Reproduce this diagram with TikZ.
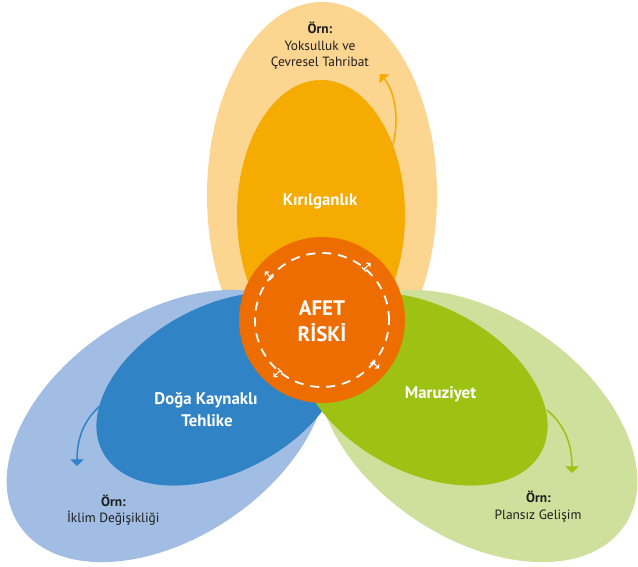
\documentclass[tikz,border=0pt]{standalone}
\usepackage{fontspec}
\setmainfont{PT Sans}
\usetikzlibrary{arrows.meta,calc}
\definecolor{topout}{HTML}{FCD590}
\definecolor{topin}{HTML}{F5AB00}
\definecolor{riskcol}{HTML}{EE6D00}
\definecolor{blueout}{HTML}{A1BDE3}
\definecolor{bluein}{HTML}{3083C5}
\definecolor{greenout}{HTML}{CFE09C}
\definecolor{greenin}{HTML}{9DC213}
\definecolor{darktext}{HTML}{1E1E1E}
\tikzset{
  biglbl/.style={text=white, inner sep=0pt, font=\fontsize{16.8bp}{20bp}\selectfont\bfseries},
  risklbl/.style={text=white, inner sep=0pt, font=\fontsize{21bp}{24bp}\selectfont\bfseries},
  exlbl/.style={text=darktext, inner sep=0pt, font=\fontsize{13.4bp}{16bp}\selectfont},
  exbold/.style={exlbl, font=\fontsize{13.4bp}{16bp}\selectfont\bfseries},
  curvearrow/.style={line width=1.5bp, -{Triangle[width=13bp,length=6.5bp]}},
  smallarrow/.style={white, line width=1.2bp, {Bar[width=6bp]}-{Straight Barb[length=2.5bp,width=5.5bp]}}
}
\begin{document}
\begin{tikzpicture}[x=1bp,y=1bp]
\useasboundingbox (0,0) rectangle (638,567);
% outer ellipses
\fill[topout] (322,372) ellipse [x radius=115bp, y radius=193bp];
\fill[blueout, rotate around={34:(167,141)}] (167,141) ellipse [x radius=178bp, y radius=112bp];
\fill[greenout, rotate around={-34:(477,141)}] (477,141) ellipse [x radius=178bp, y radius=112bp];
% inner ellipses
\fill[topin] (321,352) ellipse [x radius=84bp, y radius=135bp];
\fill[bluein, rotate around={28:(221,178)}] (221,178) ellipse [x radius=134bp, y radius=83bp];
\fill[greenin, rotate around={-28:(423,178)}] (423,178) ellipse [x radius=134bp, y radius=83bp];
% curved arrows
\coordinate (ta) at (393,422);
\coordinate (tb) at (380,493);
\draw[curvearrow, topin] (ta) .. controls (400,450) and (394,477) .. (tb);
\coordinate (ba) at (101,162);
\coordinate (bb) at (77,101);
\draw[curvearrow, bluein] (ba) .. controls (86,149) and (77,132) .. (bb);
\coordinate (ga) at (547,157);
\coordinate (gb) at (572,94);
\draw[curvearrow, greenin] (ga) .. controls (562,144) and (572,127) .. (gb);
% central circle
\node[circle, fill=riskcol, minimum size=166bp, inner sep=0pt] (risk) at (322,247) {};
\draw[white, line width=1.8bp, dash pattern=on 9bp off 7bp] (risk.center) circle [radius=67bp];
\foreach \a in {50,140,230,320} {
  \draw[smallarrow] ($(risk.center)+(\a:70bp)+(\a+174:5bp)$) -- ($(risk.center)+(\a:70bp)+(\a-6:5bp)$);
}
% labels
\node[risklbl, anchor=base] (afet) at (322,251) {AFET};
\node[risklbl, anchor=base] (riski) at (322,225.3) {RİSKİ};
\node[biglbl, anchor=base] (kir) at (320,361.3) {Kırılganlık};
\node[biglbl, anchor=base] (doga) at (206,162) {Doğa Kaynaklı};
\node[biglbl, anchor=base] (tehlike) at (207,140.3) {Tehlike};
\node[biglbl, anchor=base] (maruz) at (440.5,168) {Maruziyet};
% examples
\node[exbold, anchor=base] (orn1) at (320,533.7) {Örn:};
\node[exlbl, anchor=base] (yok) at (320,516.3) {Yoksulluk ve};
\node[exlbl, anchor=base] (cev) at (320,500.3) {Çevresel Tahribat};
\node[exbold, anchor=base] (orn2) at (113.5,60.3) {Örn:};
\node[exlbl, anchor=base] (iklim) at (113.3,44.3) {İklim Değişikliği};
\node[exbold, anchor=base] (orn3) at (538.5,64.3) {Örn:};
\node[exlbl, anchor=base] (plan) at (538,47.7) {Plansız Gelişim};
\end{tikzpicture}
\end{document}
